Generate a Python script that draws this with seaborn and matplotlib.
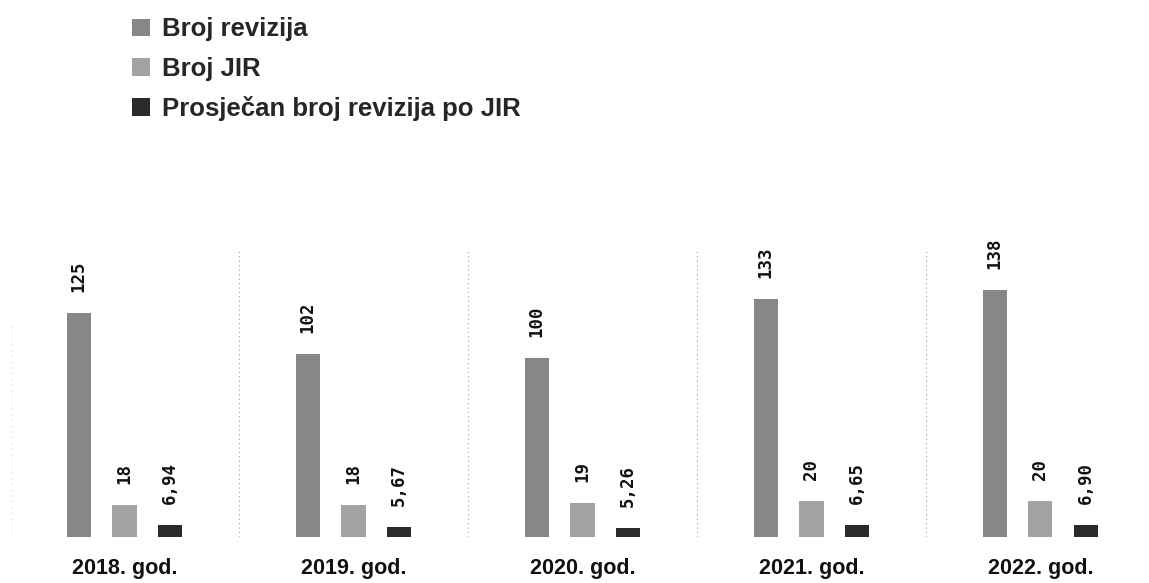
import pandas as pd
import numpy as np
import matplotlib
matplotlib.use("Agg")
import matplotlib.pyplot as plt
from matplotlib.patches import Patch
import seaborn as sns

sns.set_style("white")
plt.rcParams["font.family"] = ["Liberation Sans", "DejaVu Sans"]

# data
godine = ["2018. god.", "2019. god.", "2020. god.", "2021. god.", "2022. god."]
serije = ["Broj revizija", "Broj JIR", "Prosječan broj revizija po JIR"]
broj_revizija = [125, 102, 100, 133, 138]
broj_jir = [18, 18, 19, 20, 20]
prosjek = [6.94, 5.67, 5.26, 6.65, 6.90]

boje = ["#878787", "#a3a3a3", "#2a2a2a"]

df = pd.DataFrame({
    "godina": godine * 3,
    "serija": [serije[0]] * 5 + [serije[1]] * 5 + [serije[2]] * 5,
    "vrijednost": broj_revizija + broj_jir + prosjek,
})

fig = plt.figure(figsize=(11.49, 5.83), dpi=100)
ax = fig.add_axes([0.0087, 0.079, 0.9965, 0.492])

sns.barplot(
    data=df,
    x="godina",
    y="vrijednost",
    hue="serija",
    hue_order=serije,
    palette=boje,
    width=0.6,
    saturation=1,
    legend=False,
    ax=ax,
)

# narrower bars, same centres
bar_w = 0.105
for p in ax.patches:
    c = p.get_x() + p.get_width() / 2
    p.set_width(bar_w)
    p.set_x(c - bar_w / 2)
    p.set_edgecolor("none")

# value labels
for cont, vals in zip(ax.containers, [broj_revizija, broj_jir, prosjek]):
    txt = [f"{v:.2f}".replace(".", ",") if isinstance(v, float) else str(v) for v in vals]
    for p, t in zip(cont.patches, txt):
        ax.annotate(
            t,
            (p.get_x() + p.get_width() / 2, p.get_height()),
            xytext=(0, 15),
            textcoords="offset points",
            rotation=90,
            ha="center",
            va="bottom",
            fontsize=12.5,
            fontweight="bold",
            family=["DejaVu Sans Mono"],
            color="#111111",
        )

# dotted separators and baseline
for x in [0.5, 1.5, 2.5, 3.5]:
    ax.axvline(x, color="#9a9a9a", lw=0.8, ls=(0, (1, 3)))
ax.axvline(-0.49, ymax=0.75, color="#bbbbbb", lw=0.6, ls=(0, (1, 6)))
ax.axhline(0, color="#8a8a8a", lw=0.8, ls=(0, (1, 4)))

ax.set_xlim(-0.5, 4.5)
ax.set_ylim(0, 160)
ax.set_xlabel("")
ax.set_ylabel("")
ax.set_yticks([])
ax.tick_params(axis="x", length=0, pad=15)
for lab in ax.get_xticklabels():
    lab.set_fontsize(15.5)
    lab.set_fontweight("bold")
    lab.set_color("#111111")
sns.despine(ax=ax, left=True, bottom=True)

handles = [Patch(facecolor=c, edgecolor="none") for c in boje]
fig.legend(
    handles,
    serije,
    loc="upper left",
    bbox_to_anchor=(0.115, 0.97),
    frameon=False,
    borderpad=0,
    borderaxespad=0,
    prop={"size": 18.5, "weight": "bold"},
    handlelength=0.7,
    handleheight=0.7,
    handletextpad=0.47,
    labelspacing=0.6,
)

plt.savefig("out.png", dpi=100)
